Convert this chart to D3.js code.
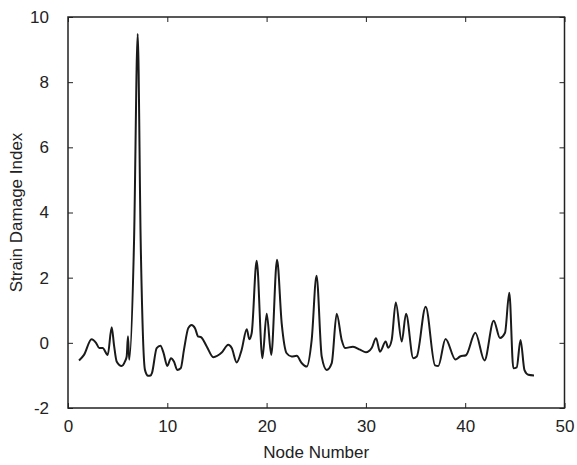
<!DOCTYPE html>
<html>
<head>
<meta charset="utf-8">
<script src="https://cdn.jsdelivr.net/npm/d3@7"></script>
<style>
  body { margin: 0; background: #fff; }
  text { font-family: "Liberation Sans", Arial, sans-serif; fill: #222; }
</style>
</head>
<body>
<div id="chart"></div>
<script>
// node position along the span and the damage index
var nodeX = [1.11, 1.61, 2.37, 2.82, 3.15, 3.49, 4.0, 4.4, 4.63, 4.9, 5.4, 5.74, 5.91, 6.04, 6.17,
  6.65, 7.02, 7.32, 7.75, 8.06, 8.31, 8.46, 8.93, 9.31, 9.62, 10.0, 10.37, 10.68, 11.0, 11.35,
  11.68, 12.11, 12.44, 12.79, 13.12, 13.36, 13.97, 14.63, 15.48, 16.14, 16.49, 16.99, 17.49,
  18.0, 18.26, 18.5, 19.0, 19.58, 20.01, 20.47, 21.05, 21.52, 22.02, 22.52, 23.03, 23.53, 24.04,
  24.54, 25.03, 25.55, 26.05, 26.56, 27.06, 27.56, 27.9, 28.7, 29.41, 30.01, 30.58, 31.02, 31.42,
  31.99, 32.25, 32.6, 33.01, 33.61, 34.04, 34.77, 35.12, 36.02, 36.96, 37.29, 38.02, 39.02, 39.48,
  40.08, 41.02, 41.94, 42.87, 43.5, 44.01, 44.44, 44.85, 45.19, 45.57, 45.97, 46.35, 46.93]
var damage = [-0.54, -0.37, 0.11, 0.0, -0.16, -0.16, -0.37, 0.48, -0.06, -0.57, -0.71, -0.57, -0.42, 0.2, -0.52,
  3.11, 9.48, 3.11, -0.83, -1.01, -1.0, -0.92, -0.16, -0.09, -0.31, -0.71, -0.47, -0.58, -0.83, -0.78,
  -0.21, 0.45, 0.55, 0.45, 0.19, 0.18, -0.11, -0.44, -0.3, -0.06, -0.16, -0.6, -0.21,
  0.42, 0.11, 0.3, 2.52, -0.47, 0.89, -0.37, 2.55, 0.6, -0.32, -0.42, -0.4, -0.62, -0.73,
  0.09, 2.06, -0.42, -0.83, -0.62, 0.89, 0.09, -0.16, -0.12, -0.21, -0.29, -0.16, 0.14, -0.27,
  0.04, -0.15, 0.09, 1.24, 0.04, 0.89, -0.47, -0.42, 1.11, -0.69, -0.71, 0.12, -0.51, -0.42,
  -0.38, 0.31, -0.54, 0.68, 0.15, 0.31, 1.54, -0.78, -0.75, 0.09, -0.84, -0.98, -1.0]

var xTicks = [0, 10, 20, 30, 40, 50]
var yTicks = [-2, 0, 2, 4, 6, 8, 10]
var xLabel = "Node Number"
var yLabel = "Strain Damage Index"

var W = 577, H = 465
var margin = {top: 17, right: 12.5, bottom: 57, left: 68}
var width = W - margin.left - margin.right
var height = H - margin.top - margin.bottom

var svg = d3.select("#chart").append("svg")
    .attr("width", W)
    .attr("height", H)
  .append("g")
    .attr("transform", "translate(" + margin.left + "," + margin.top + ")")

var x = d3.scaleLinear().domain([0, 50]).range([0, width])
var y = d3.scaleLinear().domain([-2, 10]).range([height, 0])

var pts = nodeX.map(function(d, i) { return [d, damage[i]] })

// the curve
svg.append("path")
    .datum(pts)
    .attr("fill", "none")
    .attr("stroke", "#1a1a1a")
    .attr("stroke-width", 2)
    .attr("stroke-linejoin", "round")
    .attr("d", d3.line()
        .x(function(d) { return x(d[0]) })
        .y(function(d) { return y(d[1]) })
        .curve(d3.curveMonotoneX))

// box style axes, ticks pointing inward
function styleAxis(g) {
  g.select(".domain").remove()
  g.selectAll(".tick line").attr("stroke", "#222").attr("stroke-width", 1)
  g.selectAll(".tick text").attr("font-size", "17px").attr("fill", "#222")
}

// plain hyphen for negatives, like the original
var plain = function(d) { return String(d) }

svg.append("g")
    .attr("transform", "translate(0," + height + ")")
    .call(d3.axisBottom(x).tickValues(xTicks).tickSize(-5).tickPadding(12).tickFormat(plain))
    .call(styleAxis)

svg.append("g")
    .call(d3.axisLeft(y).tickValues(yTicks).tickSize(-5).tickPadding(19).tickFormat(plain))
    .call(styleAxis)

svg.append("g")
    .call(d3.axisTop(x).tickValues(xTicks).tickSize(-5).tickFormat(""))
    .call(styleAxis)

svg.append("g")
    .attr("transform", "translate(" + width + ",0)")
    .call(d3.axisRight(y).tickValues(yTicks).tickSize(-5).tickFormat(""))
    .call(styleAxis)

svg.append("rect")
    .attr("width", width)
    .attr("height", height)
    .attr("fill", "none")
    .attr("stroke", "#222")
    .attr("stroke-width", 1.5)

svg.append("text")
    .attr("x", width / 2)
    .attr("y", height + 50)
    .attr("text-anchor", "middle")
    .attr("font-size", "17px")
    .text(xLabel)

svg.append("text")
    .attr("transform", "translate(" + (-46) + "," + (height / 2) + ") rotate(-90)")
    .attr("text-anchor", "middle")
    .attr("font-size", "17px")
    .text(yLabel)
</script>
</body>
</html>
